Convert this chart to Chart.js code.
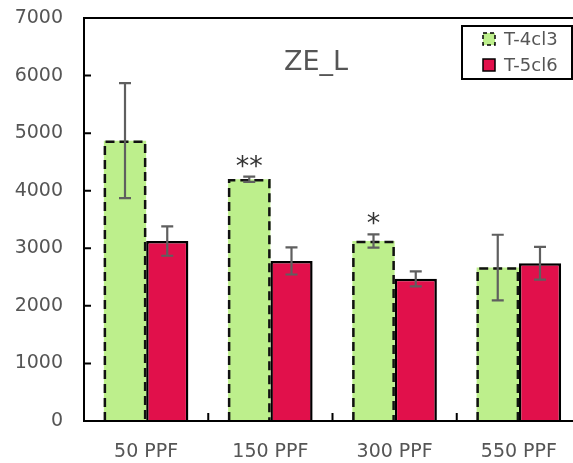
<!DOCTYPE html>
<html>
<head>
<meta charset="utf-8">
<script src="https://cdn.jsdelivr.net/npm/chart.js@4.4.1/dist/chart.umd.min.js"></script>
<style>
  html, body { margin: 0; padding: 0; background: #fff; overflow: hidden; }
  #wrap { width: 600px; height: 463px; }
</style>
</head>
<body>
<div id="wrap"><canvas id="grafico" width="600" height="463"></canvas></div>
<script>
// datos
const categorias = ['50 PPF', '150 PPF', '300 PPF', '550 PPF'];
const serieVerde = [4870, 4200, 3125, 2665];
const errorVerde = [1000, 45, 115, 570];
const serieRoja = [3125, 2780, 2470, 2740];
const errorRoja = [255, 235, 130, 285];
const asteriscos = ['', '**', '*', ''];
const etiquetas = ['T-4cl3', 'T-5cl6'];
const tituloPanel = 'ZE_L';

const VERDE = '#bdef8c';
const ROJO = '#e1104b';
const GRIS = '#555555';
const FUENTE = '"DejaVu Sans", sans-serif';

// contorno discontinuo, barras de error, marcas y leyenda
const extras = {
  id: 'extras',
  afterDatasetsDraw(chart) {
    const ctx = chart.ctx;
    const area = chart.chartArea;
    const y = chart.scales.y;
    const x = chart.scales.x;
    const errores = [errorVerde, errorRoja];

    ctx.save();

    // borde discontinuo de las barras verdes
    ctx.strokeStyle = '#111';
    ctx.lineWidth = 2.5;
    ctx.setLineDash([9, 5]);
    chart.getDatasetMeta(0).data.forEach(bar => {
      const l = bar.x - bar.width / 2 + 1;
      const r = bar.x + bar.width / 2 - 1;
      ctx.beginPath();
      ctx.moveTo(l, bar.base);
      ctx.lineTo(l, bar.y + 1);
      ctx.lineTo(r, bar.y + 1);
      ctx.lineTo(r, bar.base);
      ctx.stroke();
    });
    ctx.setLineDash([]);

    // barras de error
    ctx.strokeStyle = '#5f5f5f';
    ctx.lineWidth = 2.2;
    chart.data.datasets.forEach((ds, i) => {
      chart.getDatasetMeta(i).data.forEach((bar, j) => {
        const arriba = y.getPixelForValue(ds.data[j] + errores[i][j]);
        const abajo = y.getPixelForValue(ds.data[j] - errores[i][j]);
        ctx.beginPath();
        ctx.moveTo(bar.x, arriba);
        ctx.lineTo(bar.x, abajo);
        ctx.moveTo(bar.x - 6, arriba);
        ctx.lineTo(bar.x + 6, arriba);
        ctx.moveTo(bar.x - 6, abajo);
        ctx.lineTo(bar.x + 6, abajo);
        ctx.stroke();
      });
    });

    // asteriscos de significancia
    ctx.fillStyle = '#333';
    ctx.font = '27px ' + FUENTE;
    ctx.textAlign = 'center';
    ctx.textBaseline = 'middle';
    chart.getDatasetMeta(0).data.forEach((bar, j) => {
      if (!asteriscos[j]) return;
      const arriba = y.getPixelForValue(serieVerde[j] + errorVerde[j]);
      ctx.fillText(asteriscos[j], bar.x, arriba - 9);
    });

    // marco del area y marcas interiores
    ctx.strokeStyle = '#000';
    ctx.lineWidth = 2;
    ctx.strokeRect(area.left, area.top, area.right - area.left, area.bottom - area.top);
    ctx.beginPath();
    y.ticks.forEach(t => {
      const py = y.getPixelForValue(t.value);
      ctx.moveTo(area.left, py);
      ctx.lineTo(area.left + 7, py);
    });
    for (let i = 0; i < categorias.length - 1; i++) {
      const px = (x.getPixelForValue(i) + x.getPixelForValue(i + 1)) / 2;
      ctx.moveTo(px, area.bottom);
      ctx.lineTo(px, area.bottom - 8);
    }
    ctx.stroke();

    // titulo del panel
    ctx.fillStyle = GRIS;
    ctx.font = '27px ' + FUENTE;
    ctx.textAlign = 'center';
    ctx.fillText(tituloPanel, area.left + 232, area.top + 45);

    // leyenda
    const lx = area.right - 119;
    const ly = area.top + 8;
    ctx.fillStyle = '#fff';
    ctx.fillRect(lx, ly, 110, 53);
    ctx.strokeStyle = '#000';
    ctx.lineWidth = 2;
    ctx.strokeRect(lx, ly, 110, 53);
    ctx.font = '18px ' + FUENTE;
    ctx.textAlign = 'left';
    chart.data.datasets.forEach((ds, i) => {
      const cy = ly + 13 + i * 26;
      ctx.fillStyle = ds.backgroundColor;
      ctx.fillRect(lx + 21, cy - 6, 12, 12);
      ctx.strokeStyle = '#000';
      ctx.lineWidth = 1.5;
      if (i === 0) ctx.setLineDash([4, 3]);
      ctx.strokeRect(lx + 21, cy - 6, 12, 12);
      ctx.setLineDash([]);
      ctx.fillStyle = GRIS;
      ctx.fillText(ds.label, lx + 42, cy + 1);
    });

    ctx.restore();
  }
};

new Chart(document.getElementById('grafico'), {
  type: 'bar',
  data: {
    labels: categorias,
    datasets: [
      {
        label: etiquetas[0],
        data: serieVerde,
        backgroundColor: VERDE,
        borderWidth: 0,
        barPercentage: 1,
        categoryPercentage: 0.68
      },
      {
        label: etiquetas[1],
        data: serieRoja,
        backgroundColor: ROJO,
        borderColor: '#000',
        borderWidth: 2.5,
        borderSkipped: 'bottom',
        barPercentage: 1,
        categoryPercentage: 0.68
      }
    ]
  },
  options: {
    responsive: false,
    animation: false,
    devicePixelRatio: 1,
    layout: { padding: { top: 18, right: 19, left: 0, bottom: 0 } },
    plugins: {
      legend: { display: false },
      tooltip: { enabled: false },
      title: { display: false }
    },
    scales: {
      x: {
        grid: { display: false, drawTicks: false },
        border: { display: true, color: '#000', width: 2 },
        ticks: { color: GRIS, font: { family: FUENTE, size: 19 }, padding: 20 },
        afterFit: s => { s.height = 42; }
      },
      y: {
        min: 0,
        max: 7000,
        grid: { display: false, drawTicks: false },
        border: { display: true, color: '#000', width: 2 },
        ticks: {
          stepSize: 1000,
          color: GRIS,
          font: { family: FUENTE, size: 19 },
          padding: 21,
          callback: v => String(v)
        },
        afterFit: s => {
          s.width = 84;
          s.paddingTop = 0;
          s.paddingBottom = 0;
        }
      }
    }
  },
  plugins: [extras]
});
</script>
</body>
</html>
